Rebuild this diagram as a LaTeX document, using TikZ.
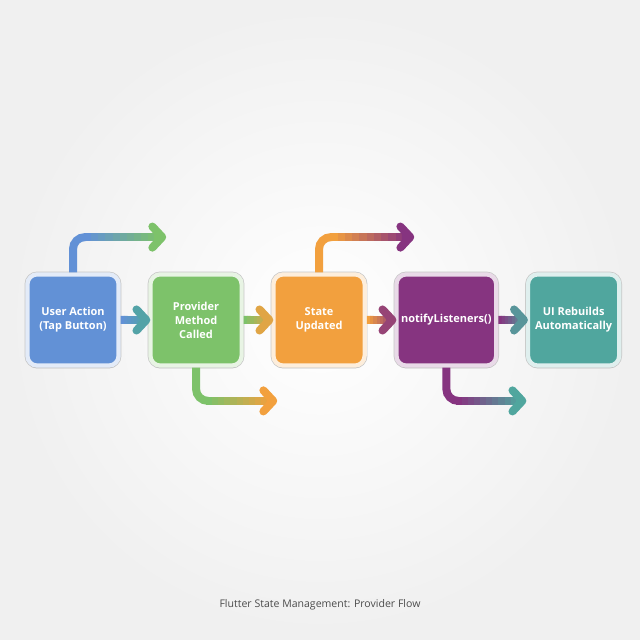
\documentclass[tikz,border=0pt]{standalone}
\usepackage{fontspec}
\setmainfont{Open Sans}
\usetikzlibrary{positioning,calc,arrows.meta,shadows}
\definecolor{actblue}{RGB}{98,145,214}
\definecolor{provgreen}{RGB}{125,194,106}
\definecolor{stateorange}{RGB}{242,160,62}
\definecolor{notifypurple}{RGB}{134,52,128}
\definecolor{uiteal}{RGB}{80,166,158}
\tikzset{
	stepbox/.style={rounded corners=7pt, minimum width=2.28cm, minimum height=2.28cm, fill=#1, draw=#1!18!white, line width=3pt, preaction={draw=black!22, line width=4pt}, drop shadow={opacity=0.1, shadow xshift=0pt, shadow yshift=-2pt}, text=white, align=center, font=\fontsize{7.8}{10}\selectfont\bfseries}, % one step of the flow
	flow/.style={line width=0.2cm, line cap=butt}, % the thick connector line
	tip/.style={-{Straight Barb[round,length=7pt,width=15pt]}}, % chevron head
}
\begin{document}
\begin{tikzpicture}
	\shade[inner color=white, outer color=black!6] (0,0) rectangle (16,16);
	\useasboundingbox (0,0) rectangle (16,16);
	
	\node[stepbox=actblue] (user) at (1.825,8) {User Action\\(Tap Button)};
	\node[stepbox=provgreen, right=0.69cm of user] (method) {Provider\\Method\\Called};
	\node[stepbox=stateorange, right=0.69cm of method] (state) {State\\Updated};
	\node[stepbox=notifypurple, right=0.69cm of state] (notify) {notifyListeners()};
	\node[stepbox=uiteal, right=0.69cm of notify] (rebuild) {UI Rebuilds\\Automatically};
	
	% straight connectors, colour fades into the next step
	\foreach \a/\b/\ca/\cb in {user/method/actblue/uiteal, method/state/provgreen/stateorange, state/notify/stateorange/notifypurple, notify/rebuild/notifypurple/uiteal}{
		\foreach \i [evaluate=\i as \p using int(100-12*\i)] in {0,...,5}
			\draw[flow, {\ca!\p!\cb}] ($(\a.east)!\i*0.12!(\b.west)$) -- ($(\a.east)!\i*0.12+0.13!(\b.west)$);
		\draw[flow, tip, \cb!85!\ca] ($(\a.east)!0.7!(\b.west)$) -- ($(\b.west)+(0.05,0)$);
	}
	
	% side branches
	\foreach \n/\anc/\dy/\l/\ca/\cb in {user/north/0.88/2.33/actblue/provgreen, method/south/-0.83/2.03/provgreen/stateorange, state/north/0.88/2.38/stateorange/notifypurple, notify/south/-0.83/2.0/notifypurple/uiteal}{
		\coordinate (\n-bend) at ($(\n.\anc)+(0,\dy)$);
		\coordinate (\n-out) at ($(\n-bend)+(\l,0)$);
		\draw[flow, \ca, rounded corners=0.3cm] (\n.\anc) -- (\n-bend) -- ($(\n-bend)!0.14!(\n-out)$);
		\foreach \i [evaluate=\i as \ta using 0.12+0.076*\i, evaluate=\i as \tb using 0.206+0.076*\i, evaluate=\i as \p using int(100-10*\i)] in {0,...,9}
			\draw[flow, {\ca!\p!\cb}] ($(\n-bend)!\ta!(\n-out)$) -- ($(\n-bend)!\tb!(\n-out)$);
		\draw[flow, tip, \cb] ($(\n-bend)!0.87!(\n-out)$) -- (\n-out);
	}
	
	\node[font=\fontsize{7.5}{9}\selectfont, text=black!70] (title) at (8,0.875) {Flutter State Management: Provider Flow};
\end{tikzpicture}
\end{document}
